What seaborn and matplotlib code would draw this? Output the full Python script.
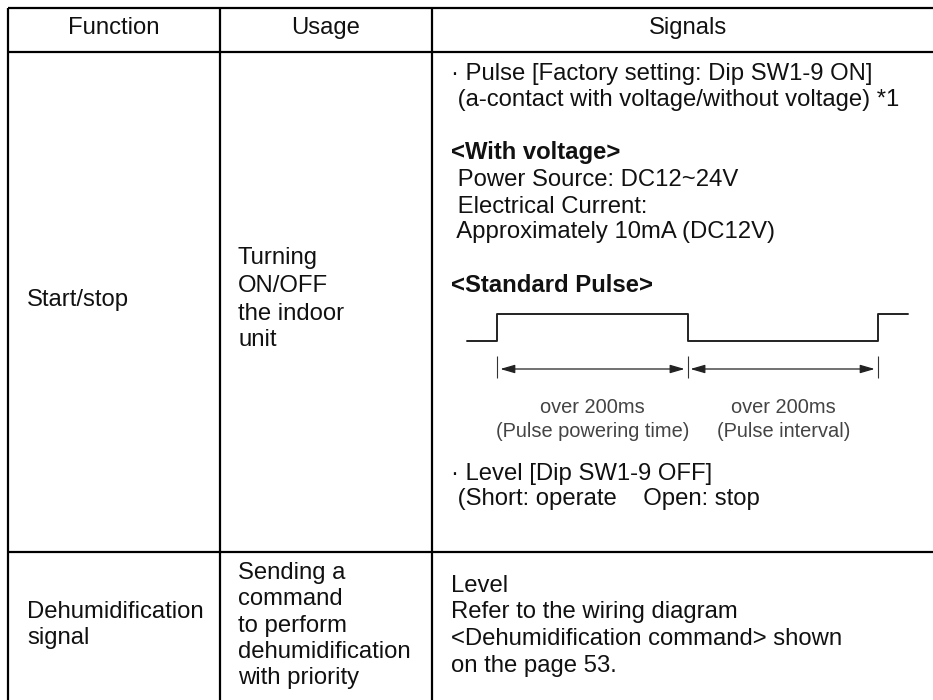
import matplotlib
matplotlib.use("Agg")
import matplotlib.pyplot as plt
import seaborn as sns

sns.set_theme(style="white")
plt.rcParams['font.family'] = ['Liberation Sans', 'DejaVu Sans']

# Table structure (page pixels); right and bottom run off the page
col_edges = [8, 220, 432]
row_edges = [8, 52, 552]

headers = ["Function", "Usage", "Signals"]
header_x = [114, 326, 688]

function_lines = [("Start/stop", 306), ("Dehumidification", 618), ("signal", 644)]
usage_lines = [("Turning", 264), ("ON/OFF", 292), ("the indoor", 320), ("unit", 346),
               ("Sending a", 579), ("command", 605), ("to perform", 632),
               ("dehumidification", 658), ("with priority", 684)]
signal_lines = [
    ("· Pulse [Factory setting: Dip SW1-9 ON]", 80, "normal"),
    (" (a-contact with voltage/without voltage) *1", 106, "normal"),
    ("<With voltage>", 159, "bold"),
    (" Power Source: DC12~24V", 186, "normal"),
    (" Electrical Current:", 213, "normal"),
    (" Approximately 10mA (DC12V)", 238, "normal"),
    ("<Standard Pulse>", 292, "bold"),
    ("· Level [Dip SW1-9 OFF]", 480, "normal"),
    (" (Short: operate    Open: stop", 505, "normal"),
    ("Level", 592, "normal"),
    ("Refer to the wiring diagram", 618, "normal"),
    ("<Dehumidification command> shown", 645, "normal"),
    ("on the page 53.", 672, "normal"),
]

# Pulse waveform: time in ms (190 px = 200 ms), level 0/1
pulse_time = [-32, 0, 0, 200, 200, 400, 400, 432]
pulse_level = [0, 0, 1, 1, 0, 0, 1, 1]
pulse_edges = [0, 200, 400]
pulse_labels = [(100, ["over 200ms", "(Pulse powering time)"]),
                (301, ["over 200ms", "(Pulse interval)"])]

W, H = 933, 700
fig = plt.figure(figsize=(W / 100, H / 100), dpi=100, facecolor="white")
ax = fig.add_axes([0, 0, 1, 1])
ax.set_xlim(0, W)
ax.set_ylim(H, 0)
ax.axis("off")

ink = "#111111"
FS = 17.2
ax.hlines(row_edges, col_edges[0], W, color="black", lw=1.6)
ax.vlines(col_edges, row_edges[0], H, color="black", lw=1.6)

for x, t in zip(header_x, headers):
    ax.text(x, 34, t, ha="center", va="baseline", fontsize=FS, color=ink)
for t, y in function_lines:
    ax.text(27, y, t, ha="left", va="baseline", fontsize=FS, color=ink)
for t, y in usage_lines:
    ax.text(238, y, t, ha="left", va="baseline", fontsize=FS, color=ink)
for t, y, w in signal_lines:
    ax.text(451, y, t, ha="left", va="baseline", fontsize=FS, color=ink, fontweight=w)

# Pulse diagram in its own data axes
x0_px, x1_px, yhi, ylo = 467, 908, 314, 341
pax = fig.add_axes([x0_px / W, 1 - 400 / H, (x1_px - x0_px) / W, (400 - yhi) / H], facecolor="none")
pax.set_xlim(pulse_time[0], pulse_time[-1])
sns.lineplot(x=pulse_time, y=pulse_level, ax=pax, estimator=None, sort=False,
             color="#222222", lw=1.4, legend=False)
for ln in pax.lines:
    ln.set_clip_on(False)
scale = (ylo - yhi)
pax.set_ylim(1 - (400 - yhi) / scale, 1)
pax.axis("off")
y_tick = [-(356 - ylo) / scale, -(378 - ylo) / scale]
y_arrow = -(369 - ylo) / scale
pax.vlines(pulse_edges, y_tick[1], y_tick[0], color="#333333", lw=0.8)
for a, b in zip(pulse_edges[:-1], pulse_edges[1:]):
    pax.annotate("", xy=(a + 3, y_arrow), xytext=(b - 3, y_arrow),
                 arrowprops=dict(arrowstyle="<|-|>,head_length=0.55,head_width=0.16",
                                 color="#222222", lw=0.9,
                                 shrinkA=0, shrinkB=0, mutation_scale=16))
for cx, (l1, l2) in pulse_labels:
    px = x0_px + (cx + 32) * (x1_px - x0_px) / 464
    ax.text(px, 413, l1, ha="center", va="baseline", fontsize=14.4, color="#444444")
    ax.text(px, 437, l2, ha="center", va="baseline", fontsize=14.4, color="#444444")

fig.savefig("out.png", dpi=100, facecolor="white")
